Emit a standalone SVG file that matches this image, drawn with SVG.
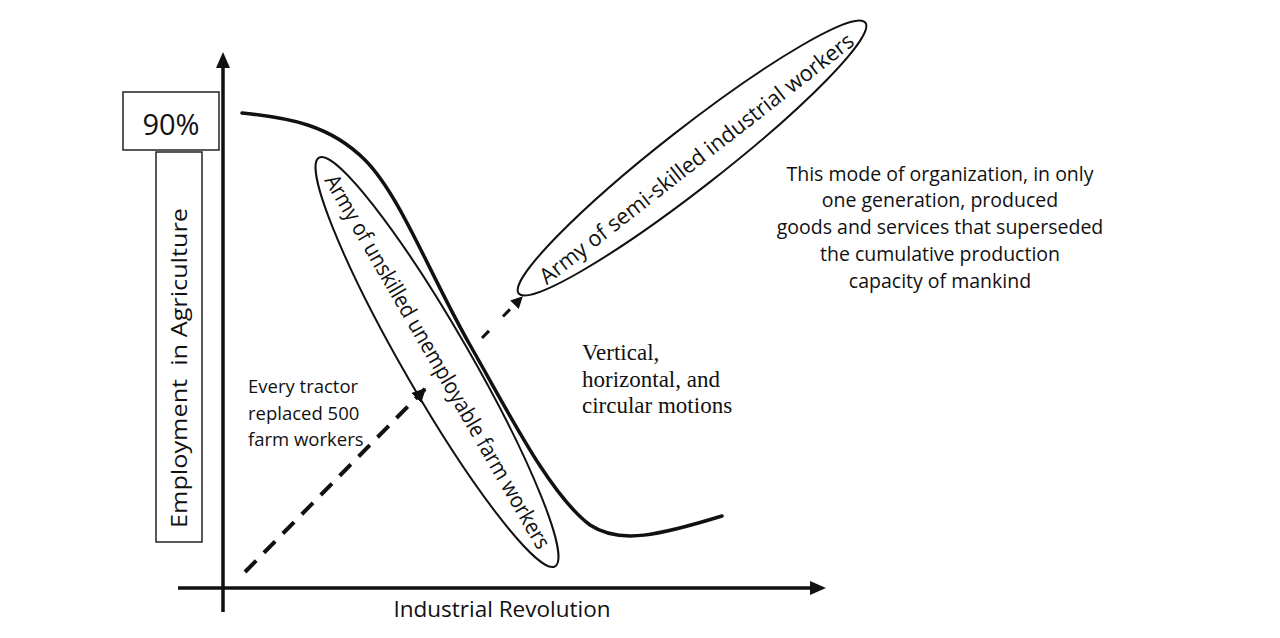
<svg xmlns="http://www.w3.org/2000/svg" width="1280" height="638" viewBox="0 0 1280 638">
<style>
.ax{stroke:#111;stroke-width:3.5;fill:none}
.box{fill:#fff;stroke:#222;stroke-width:1.5}
.ell{fill:none;stroke:#111;stroke-width:2}
.curve{fill:none;stroke:#111;stroke-width:3.5;stroke-linecap:round}
.dash{fill:none;stroke:#111;stroke-width:4;stroke-dasharray:16 11}
.dash2{fill:none;stroke:#111;stroke-width:3;stroke-dasharray:10 20}
.sans{font-family:"Open Sans","Liberation Sans",sans-serif;fill:#111}
.serif{font-family:"Liberation Serif",serif;fill:#111}
</style>
<defs>
<marker id="ah" viewBox="0 0 10 10" refX="9" refY="5" markerWidth="14" markerHeight="14" markerUnits="userSpaceOnUse" orient="auto"><path d="M0,0 L10,5 L0,10 z" fill="#111"/></marker>
<marker id="ahs" viewBox="0 0 10 10" refX="9" refY="5" markerWidth="12" markerHeight="12" markerUnits="userSpaceOnUse" orient="auto"><path d="M0,0 L10,5 L0,10 z" fill="#111"/></marker>
</defs>
<rect width="1280" height="638" fill="#fff"/>
<g id="axes">
<line class="ax" x1="223" y1="612" x2="223" y2="66"/>
<path d="M223,52 L216,68 L230,68 z" fill="#111"/>
<line class="ax" x1="178" y1="588" x2="812" y2="588"/>
<path d="M826,588 L810,581 L810,595 z" fill="#111"/>
</g>
<g id="label-90">
<rect class="box" x="123" y="92" width="96" height="58"/>
<text class="sans" x="171" y="135" font-size="29" text-anchor="middle">90%</text>
</g>
<g id="label-employment">
<rect class="box" x="156" y="152" width="46" height="390"/>
<text class="sans" transform="translate(187,368) rotate(-90)" font-size="22" text-anchor="middle" textLength="320" lengthAdjust="spacingAndGlyphs" xml:space="preserve">Employment  in Agriculture</text>
</g>
<g id="curve">
<path class="curve" d="M242,113 C290,118 330,125 365,160 C400,195 430,275 470,345 C510,415 550,495 590,525 C620,545 660,535 722,516"/>
</g>
<g id="unskilled">
<ellipse class="ell" cx="0" cy="0" rx="236" ry="33" transform="translate(437,362) rotate(60)"/>
<text class="sans" transform="translate(437,362) rotate(60)" x="0" y="7" font-size="22" text-anchor="middle" textLength="428" lengthAdjust="spacingAndGlyphs">Army of unskilled unemployable farm workers</text>
</g>
<g id="semiskilled">
<ellipse class="ell" cx="0" cy="0" rx="220" ry="30" transform="translate(692,158) rotate(-38)"/>
<text class="sans" transform="translate(697,159) rotate(-38)" x="0" y="7" font-size="22" text-anchor="middle" textLength="392" lengthAdjust="spacingAndGlyphs">Army of semi-skilled industrial workers</text>
</g>
<g id="connectors">
<line class="dash" x1="245" y1="572" x2="425" y2="389" marker-end="url(#ah)"/>
<line class="dash2" x1="482" y1="338" x2="522" y2="297" marker-end="url(#ahs)"/>
</g>
<g id="tractor-text">
<text class="sans" font-size="18.5"><tspan x="248" y="393">Every tractor</tspan><tspan x="248" y="420">replaced 500</tspan><tspan x="248" y="446">farm workers</tspan></text>
</g>
<g id="motions-text">
<text class="serif" font-size="23"><tspan x="582" y="360">Vertical,</tspan><tspan x="582" y="387">horizontal, and</tspan><tspan x="582" y="413">circular motions</tspan></text>
</g>
<g id="mode-text">
<text class="sans" font-size="19.5" text-anchor="middle"><tspan x="940" y="181">This mode of organization, in only</tspan><tspan x="940" y="207">one generation, produced</tspan><tspan x="940" y="234">goods and services that superseded</tspan><tspan x="940" y="261">the cumulative production</tspan><tspan x="940" y="288">capacity of mankind</tspan></text>
</g>
<g id="xlabel">
<text class="sans" x="502" y="617" font-size="22.5" text-anchor="middle">Industrial Revolution</text>
</g>
</svg>
